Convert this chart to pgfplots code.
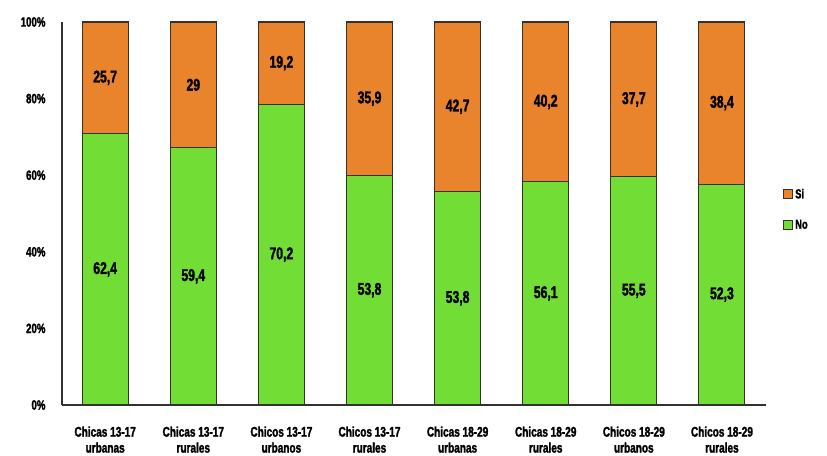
\documentclass[border=0pt]{standalone}
\usepackage{pgfplots}
\usepackage{pgfplotstable}
\pgfplotsset{compat=1.18}
\usepackage{fontspec}
\setmainfont{Liberation Sans}[FakeStretch=0.72, BoldFeatures={FakeBold=1.8}]
\definecolor{siorange}{RGB}{233,131,44}
\definecolor{nogreen}{RGB}{114,221,53}
\definecolor{edgegray}{RGB}{50,50,50}
\pgfplotstableread{
x no si
0 62.4 25.7
1 59.4 29
2 70.2 19.2
3 53.8 35.9
4 53.8 42.7
5 56.1 40.2
6 55.5 37.7
7 52.3 38.4
}\data
\pgfplotstablecreatecol[create col/expr={100*\thisrow{no}/(\thisrow{no}+\thisrow{si})}]{nop}\data
\pgfplotstablecreatecol[create col/expr={100-\thisrow{nop}}]{sip}\data
\pgfplotstablecreatecol[create col/expr={\thisrow{nop}/2}]{nomid}\data
\pgfplotstablecreatecol[create col/expr={\thisrow{nop}+\thisrow{sip}/2}]{simid}\data
\begin{document}
\begin{tikzpicture}
\pgfplotsset{
  common/.style={
    width=704bp, height=383bp, scale only axis,
    xmin=-0.49, xmax=7.5, ymin=0, ymax=100,
  }
}
\begin{axis}[
  common,
  ybar stacked, bar width=46bp,
  axis x line*=bottom, axis y line*=left,
  axis line style={draw=edgegray, line width=1.1bp},
  xtick=data,
  xticklabels={{Chicas 13-17\\urbanas},{Chicas 13-17\\rurales},{Chicos 13-17\\urbanos},{Chicos 13-17\\rurales},{Chicas 18-29\\urbanas},{Chicas 18-29\\rurales},{Chicos 18-29\\urbanos},{Chicos 18-29\\rurales}},
  xticklabel style={align=center, font=\bfseries\fontsize{14}{16}\selectfont, yshift=-18bp},
  ytick={0,20,40,60,80,100},
  yticklabel={\pgfmathprintnumber{\tick}\%},
  yticklabel style={font=\bfseries\fontsize{13.5}{14}\selectfont, xshift=-13bp},
  /pgf/number format/assume math mode=true,
  major tick length=0pt,
  legend style={at={(rel axis cs:1.02,0.575)}, anchor=north west, draw=none, fill=none,
    font=\bfseries\fontsize{13}{14}\selectfont, row sep=16bp},
  legend cell align=left,
  reverse legend,
  legend image code/.code={\draw[#1, draw=edgegray, line width=1bp] (0bp,-4.5bp) rectangle (9bp,4.5bp);},
]
\addplot[fill=nogreen, draw=edgegray, line width=1.1bp] table[x=x, y=nop] {\data};
\addlegendentry{No}
\addplot[fill=siorange, draw=edgegray, line width=1.1bp] table[x=x, y=sip] {\data};
\addlegendentry{Si}
\end{axis}
\begin{axis}[
  common, hide axis,
  /pgf/number format/use comma,
  /pgf/number format/assume math mode=true,
  nodes near coords,
  every node near coord/.style={anchor=center, font=\bfseries\fontsize{17}{18}\selectfont, text=black},
]
\addplot[draw=none, mark=none, point meta=explicit] table[x=x, y=nomid, meta=no] {\data};
\addplot[draw=none, mark=none, point meta=explicit] table[x=x, y=simid, meta=si] {\data};
\end{axis}
\pgfresetboundingbox
\path[use as bounding box] (-62bp,-51bp) rectangle (765bp,405bp);
\end{tikzpicture}
\end{document}
